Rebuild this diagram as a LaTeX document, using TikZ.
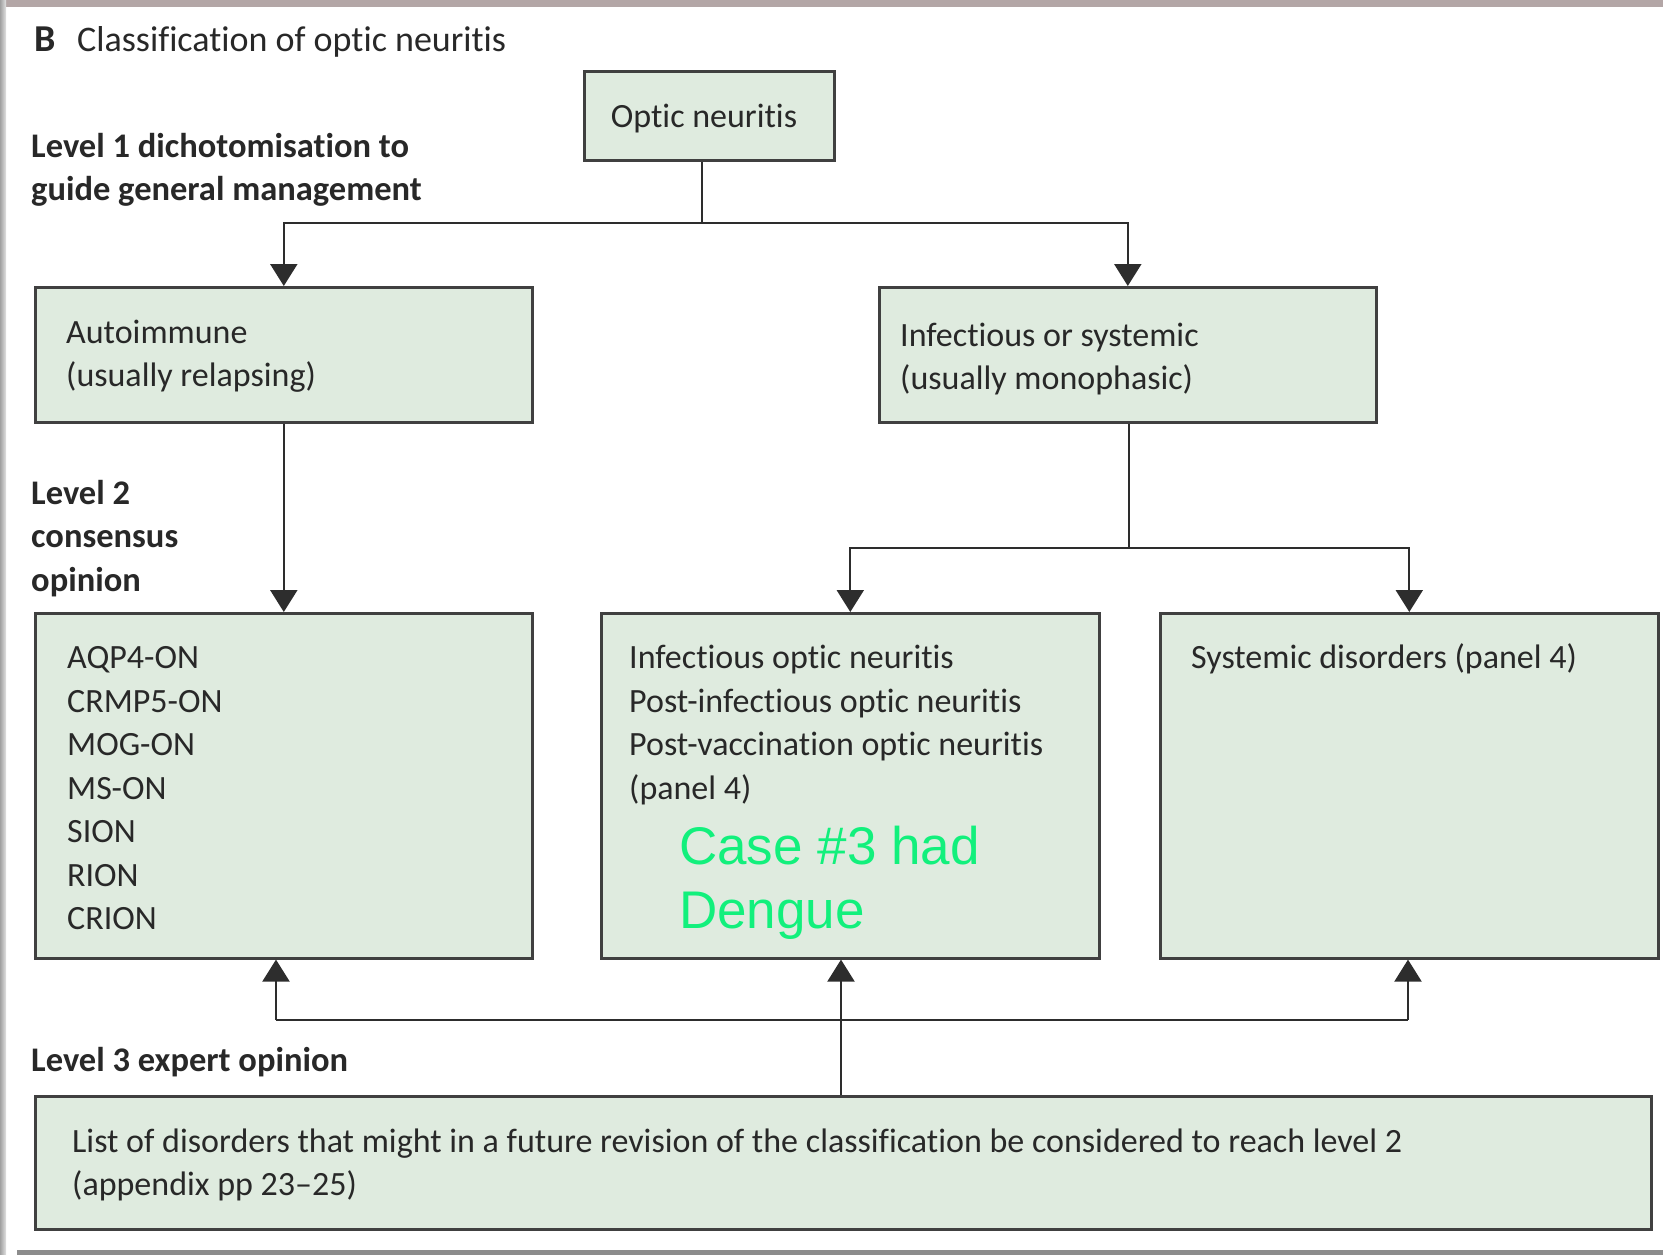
\documentclass[tikz,border=0pt]{standalone}
\usepackage{fontspec}
\setmainfont{Carlito}[Ligatures={NoCommon}]
\newfontfamily\notefont{Liberation Sans}
\usetikzlibrary{arrows.meta}

\definecolor{boxfill}{RGB}{223,235,223}
\definecolor{boxline}{RGB}{64,64,64}
\definecolor{linkcol}{RGB}{45,45,45}
\definecolor{txt}{RGB}{40,40,40}
\definecolor{notegreen}{RGB}{18,240,124}
\definecolor{frame}{RGB}{160,160,160}

\begin{document}
\begin{tikzpicture}[x=1pt,y=-1pt,
  box/.style={draw=boxline, line width=2.6pt, fill=boxfill, rectangle,
    inner sep=0pt, anchor=north west},
  label/.style={anchor=base west, inner sep=0pt, text=txt,
    font=\fontsize{34}{43}\selectfont},
  heading/.style={anchor=base west, inner sep=0pt, text=txt,
    font=\fontsize{34.5}{43}\selectfont\bfseries},
  link/.style={draw=linkcol, line width=2.2pt},
  arrow/.style={link, -{Triangle[width=27pt,length=22pt]}},
  note/.style={anchor=base west, inner sep=0pt, text=notegreen,
    font=\notefont\fontsize{53}{64}\selectfont}
]
% page and its scanned edges
\fill[white] (0,0) rectangle (1663,1255);
\useasboundingbox (0,0) rectangle (1663,1255);
\fill[frame!80!pink] (0,0) rectangle (1663,7);
\fill[left color=frame, right color=frame!30] (0,0) rectangle (6,1255);
\fill[gray!90] (17,1250) rectangle (1663,1255);

% boxes
\node[box, minimum width=250pt, minimum height=89pt] (on) at (583,70) {};
\node[box, minimum width=497pt, minimum height=135pt] (auto) at (34,286) {};
\node[box, minimum width=497pt, minimum height=135pt] (inf) at (878,286) {};
\node[box, minimum width=497pt, minimum height=345pt] (b1) at (34,612) {};
\node[box, minimum width=498pt, minimum height=345pt] (b2) at (600,612) {};
\node[box, minimum width=498pt, minimum height=345pt] (b3) at (1159,612) {};
\node[box, minimum width=1616pt, minimum height=133pt] (l3) at (34,1095) {};

% headings
\node[anchor=base west, inner sep=0pt, text=txt, font=\fontsize{38}{43}\selectfont\bfseries] (tB) at (34,52) {B};
\node[label, font=\fontsize{36}{43}\selectfont] (title) at (77,52) {Classification of optic neuritis};
\node[heading] (h1a) at (31,157) {Level 1 dichotomisation to};
\node[heading] (h1b) at (31,200) {guide general management};
\node[heading] (h2a) at (31,504) {Level 2};
\node[heading] (h2b) at (31,547) {consensus};
\node[heading] (h2c) at (31,591) {opinion};
\node[heading] (h3) at (31,1071) {Level 3 expert opinion};

% box texts
\node[label, anchor=base] (ton) at (704,127) {Optic neuritis};
\node[label] (ta1) at (66,343) {Autoimmune};
\node[label] (ta2) at (66,386) {(usually relapsing)};
\node[label] (ti1) at (900,346) {Infectious or systemic};
\node[label] (ti2) at (900,389) {(usually monophasic)};

\node[label] (c1) at (67,668) {AQP4-ON};
\node[label] (c2) at (67,712) {CRMP5-ON};
\node[label] (c3) at (67,755) {MOG-ON};
\node[label] (c4) at (67,799) {MS-ON};
\node[label] (c5) at (67,842) {SION};
\node[label] (c6) at (67,886) {RION};
\node[label] (c7) at (67,929) {CRION};

\node[label] (d1) at (629,668) {Infectious optic neuritis};
\node[label] (d2) at (629,712) {Post-infectious optic neuritis};
\node[label] (d3) at (629,755) {Post-vaccination optic neuritis};
\node[label] (d4) at (629,799) {(panel 4)};
\node[note] (n1) at (679,864) {Case \#3 had};
\node[note] (n2) at (679,928) {Dengue};

\node[label] (s1) at (1191,668) {Systemic disorders (panel 4)};

\node[label] (e1) at (72,1152) {List of disorders that might in a future revision of the classification be considered to reach level 2};
\node[label] (e2) at (72,1195) {(appendix pp 23--25)};

% level 1 split
\coordinate (j1) at (702,223);
\draw[link] (on.south -| j1) -- (j1);
\draw[arrow] (j1) -| (auto.north);
\draw[arrow] (j1) -| (inf.north);

% level 2
\draw[arrow] (auto.south) -- (b1.north);
\coordinate (j2) at (1129,548);
\draw[link] (inf.south -| j2) -- (j2);
\draw[arrow] (j2) -| (b2.north);
\draw[arrow] (j2) -| (b3.north);

% level 3 feedback
\coordinate (j3) at (841,1020);
\coordinate (uL) at (276,1020);
\coordinate (uR) at (1408,1020);
\draw[link] (uL) -- (uR);
\draw[arrow] (l3.north -| j3) -- (j3 |- b2.south);
\draw[arrow] (uL) -- (uL |- b1.south);
\draw[arrow] (uR) -- (uR |- b3.south);
\end{tikzpicture}
\end{document}
